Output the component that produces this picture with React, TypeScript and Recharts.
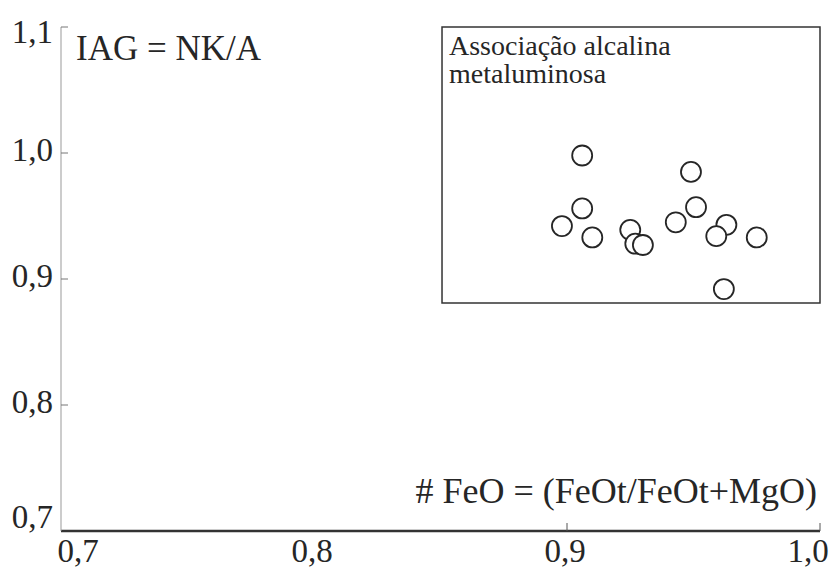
import { ScatterChart, Scatter, XAxis, YAxis, ReferenceArea, Customized } from "recharts";

// #FeO (x) and IAG (y) for the metaluminous alkaline samples
const feo = [0.906, 0.949, 0.906, 0.951, 0.898, 0.910, 0.925, 0.927, 0.930, 0.943, 0.963, 0.959, 0.975, 0.962];
const iag = [0.998, 0.985, 0.956, 0.957, 0.942, 0.933, 0.939, 0.928, 0.927, 0.945, 0.943, 0.934, 0.933, 0.892];

const xTicks = [0.7, 0.8, 0.9, 1.0];
const yTicks = [0.7, 0.8, 0.9, 1.0, 1.1];
const xMarked = [0.9, 1.0];

const points = feo.map((x, i) => ({ x, y: iag[i] }));

const fmt = (v: number) => v.toFixed(1).replace(".", ",");
const serif = { fontFamily: '"Liberation Serif", "Times New Roman", Times, serif' };
const INK = "#262626";

const XTick = (props: any) => {
  const { x, y, payload, index } = props;
  const v = payload.value;
  const shift = index === 0 ? 17 : index === xTicks.length - 1 ? -12 : -2;
  return (
    <g>
      {xMarked.includes(v) && <line x1={x} x2={x} y1={y - 8} y2={y} stroke="#555" strokeWidth={1} />}
      <text x={x + shift} y={y + 31} textAnchor="middle" style={serif} fontSize={33} fill={INK}>
        {fmt(v)}
      </text>
    </g>
  );
};

const YTick = (props: any) => {
  const { x, y, payload, index } = props;
  const v = payload.value;
  const shift = index === 0 ? -14 : index === yTicks.length - 1 ? 5 : -3;
  return (
    <g>
      {index > 0 && <line x1={x} x2={x + 7} y1={y} y2={y} stroke="#777" strokeWidth={1} />}
      <text x={x - 8} y={y + shift + 11} textAnchor="end" style={serif} fontSize={33} fill={INK}>
        {fmt(v)}
      </text>
    </g>
  );
};

const Ring = (props: any) => (
  <circle cx={props.cx} cy={props.cy} r={10} fill="#fff" stroke={INK} strokeWidth={1.8} />
);

const Notes = () => (
  <g fill={INK}>
    <text x={76} y={60} fontSize={35} style={serif}>IAG = NK/A</text>
    <text x={449} y={55} fontSize={28} style={serif}>Associação alcalina</text>
    <text x={449} y={83} fontSize={28} style={serif}>metaluminosa</text>
    <text x={817} y={503} fontSize={36} textAnchor="end" style={serif}>
      # FeO = (FeOt/FeOt+MgO)
    </text>
  </g>
);

export default function App() {
  return (
    <div style={{ position: "absolute", left: 0, top: 0, width: 831, height: 568, background: "#fff" }}>
      <ScatterChart width={831} height={568} margin={{ top: 27, right: 11, bottom: 0, left: 0 }}>
        <XAxis
          type="number"
          dataKey="x"
          domain={[0.7, 1.0]}
          ticks={xTicks}
          height={37}
          tickSize={0}
          tickMargin={0}
          tickLine={false}
          axisLine={{ stroke: "#333", strokeWidth: 2.5 }}
          tick={<XTick />}
          interval={0}
        />
        <YAxis
          type="number"
          dataKey="y"
          domain={[0.7, 1.1]}
          ticks={yTicks}
          width={61}
          tickSize={0}
          tickMargin={0}
          tickLine={false}
          axisLine={{ stroke: "#999", strokeWidth: 1 }}
          tick={<YTick />}
          interval={0}
        />
        <ReferenceArea x1={0.8506} x2={1.0} y1={0.881} y2={1.1} fill="none" stroke="#333" strokeWidth={1.5} ifOverflow="visible" />
        <Scatter data={points} shape={<Ring />} isAnimationActive={false} />
        <Customized component={Notes} />
      </ScatterChart>
    </div>
  );
}
